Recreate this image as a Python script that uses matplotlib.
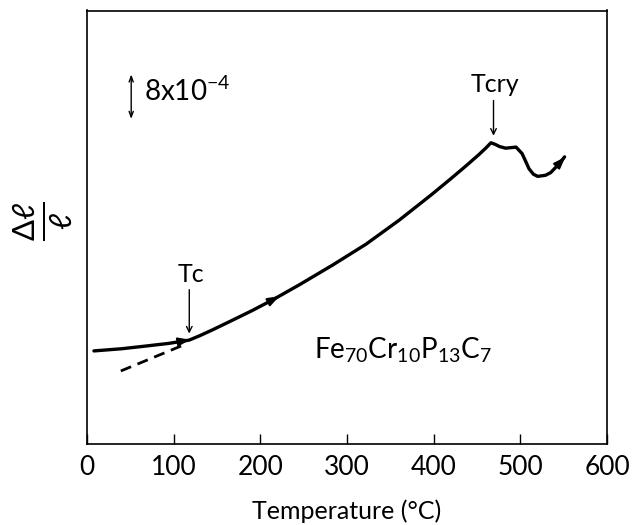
import numpy as np
import matplotlib
matplotlib.use('Agg')
import matplotlib.pyplot as plt

plt.rcParams['font.family'] = ['Lato', 'DejaVu Sans']
plt.rcParams['mathtext.fontset'] = 'custom'
plt.rcParams['mathtext.rm'] = 'Lato'
plt.rcParams['mathtext.it'] = 'Lato:italic'

# dilatation curve, temperature (C) vs delta l / l in units of 1e-4 (arbitrary offset)
temp = [8, 40, 68, 95, 118, 130, 145, 167, 190, 214, 245, 283, 322, 360, 383,
        398, 420, 437, 452, 460, 466, 471, 476, 483, 489, 495, 502, 506, 510,
        515, 520, 529, 535, 541, 546, 551]
dl = [17.2, 17.6, 18.1, 18.6, 19.2, 20.0, 21.1, 22.8, 24.6, 26.6, 29.4, 33.0,
      36.9, 41.3, 44.2, 46.1, 49.0, 51.3, 53.4, 54.6, 55.6, 55.3, 54.9, 54.6,
      54.7, 54.8, 53.6, 52.2, 50.8, 49.8, 49.4, 49.6, 50.1, 51.1, 52.0, 53.0]

# extrapolated paramagnetic line below Tc
ext_temp = [39, 116]
ext_dl = [13.5, 18.6]

tc = 118
tcry = 469

fig = plt.figure(figsize=(6.35, 5.25), dpi=100)
ax = fig.add_axes([0.137, 0.154, 0.819, 0.826])

ax.plot(temp, dl, color='black', lw=2.4, solid_capstyle='round', solid_joinstyle='round')
ax.plot(ext_temp, ext_dl, color='black', lw=2.0, dashes=(4, 2.5))

# direction arrows on the curve
for x0, x1 in [(100, 119), (208, 222), (545, 552)]:
    ax.annotate('', xy=(x1, np.interp(x1, temp, dl)),
                xytext=(x0, np.interp(x0, temp, dl)),
                arrowprops=dict(arrowstyle='-|>,head_length=0.7,head_width=0.25',
                                color='black', lw=1.5, shrinkA=0, shrinkB=0))

# Tc and Tcry markers
ax.annotate('', xy=(tc, 20.4), xytext=(tc, 28.5),
            arrowprops=dict(arrowstyle='->', color='black', lw=1.0, shrinkA=0, shrinkB=0))
ax.text(tc + 2, 29.2, 'Tc', fontsize=18, ha='center', va='bottom')
ax.annotate('', xy=(tcry, 56.9), xytext=(tcry, 63.4),
            arrowprops=dict(arrowstyle='->', color='black', lw=1.0, shrinkA=0, shrinkB=0))
ax.text(tcry + 2, 64.2, 'Tcry', fontsize=18, ha='center', va='bottom')

# scale bar
ax.annotate('', xy=(51, 60.0), xytext=(51, 68.2),
            arrowprops=dict(arrowstyle='<->,head_length=0.4,head_width=0.15',
                            color='black', lw=1.0, shrinkA=0, shrinkB=0))
ax.text(66, 65.0, r'8x10$^{-4}$', fontsize=20, ha='left', va='center')

ax.text(262, 17.3, r'Fe$_{70}$Cr$_{10}$P$_{13}$C$_{7}$', fontsize=20,
        ha='left', va='center')

ax.set_xlim(0, 600)
ax.set_ylim(0, 80)
ax.set_xticks([0, 100, 200, 300, 400, 500, 600])
ax.set_xticklabels(['0', '100', '200', '300', '400', '500', '600'])
ax.set_yticks([])
ax.tick_params(axis='x', direction='in', length=7, width=1.0, labelsize=19, pad=8)
for s in ax.spines.values():
    s.set_linewidth(1.2)

ax.set_xlabel('Temperature (°C)', fontsize=18, labelpad=14)
fig.text(0.068, 0.578, r'$\frac{\Delta \ell}{\ell}$', fontsize=32, rotation=90,
         ha='center', va='center', family='DejaVu Sans')

fig.savefig('out.png', dpi=100)
